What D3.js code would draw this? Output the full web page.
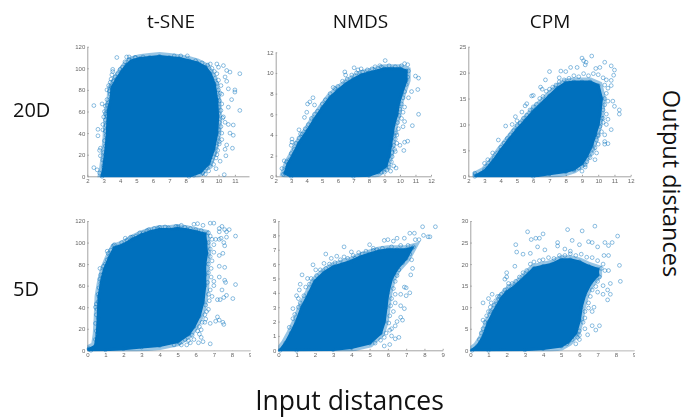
<!DOCTYPE html>
<html>
<head>
<meta charset="utf-8">
<script src="https://cdn.jsdelivr.net/npm/d3@7"></script>
<style>
  html, body { margin: 0; padding: 0; background: #fff; }
  svg { display: block; }
  .label { font-family: "Open Sans", sans-serif; fill: #111; }
  .tick text { font-family: "Liberation Sans", sans-serif; font-size: 6px; fill: #666; }
  .panel { filter: blur(0.35px); }
</style>
</head>
<body>
<div id="chart"></div>
<script>

const columnTitles = ["t-SNE", "NMDS", "CPM"];
const rowTitles = ["20D", "5D"];

// dense part of each cloud, traced around its edge [input, output]
const tsne20Edge = [[2.9,0],[3.0,8],[3.1,20],[3.2,35],[3.25,50],[3.3,62],[3.45,72],[3.5,82],[3.8,90],[4.1,97],[4.4,103],[4.7,107],[5.2,109],[5.8,110],[6.4,111],[7,110],[7.6,109],[8.2,107],[8.7,105],[9.2,101],[9.5,95],[9.75,85],[9.9,70],[9.95,55],[9.9,40],[9.7,25],[9.4,12],[8.9,4],[8.2,0]];
const nmds20Edge = [[2.6,0.3],[2.8,1.2],[3.1,2],[3.5,3.2],[4,4.3],[4.5,5.5],[5,6.6],[5.5,7.6],[6,8.3],[6.5,8.9],[7,9.4],[7.5,9.8],[8,10],[8.5,10.2],[9,10.4],[9.5,10.4],[10,10.4],[10.4,10.2],[10.4,9.3],[10.1,8],[9.9,7],[9.8,6],[9.6,5],[9.5,4],[9.4,3],[9.3,2],[9.1,1],[8.6,0.4],[8,0.1],[7,0],[3,0]];
const cpm20Edge = [[2.4,0],[3,1],[3.5,2.8],[4,5],[4.5,7],[5,9],[5.5,10.7],[6,12.5],[6.5,14],[7,15.5],[7.5,17],[8,18],[8.5,18.2],[9,18.2],[9.5,18.2],[10,17.5],[10.2,15],[10.1,12],[10,10],[9.8,8],[9.6,6],[9.3,4],[9,2.5],[8.5,1.4],[8,0.9],[7,0.5],[6,0]];
const tsne5Edge = [[0.1,1],[0.45,4],[0.55,15],[0.6,30],[0.65,50],[0.8,65],[0.95,75],[1.2,85],[1.5,95],[2,98],[2.5,103],[3,107],[3.5,110],[4,112],[4.5,112],[5,113],[5.5,112],[6,110],[6.5,108],[6.55,100],[6.6,90],[6.5,80],[6.5,70],[6.5,60],[6.4,45],[6.2,32],[5.9,22],[5.6,15],[5,8],[4,4.5],[3,3],[2,1.5],[1,0.5],[0.2,0]];
const nmds5Edge = [[0.1,0],[0.4,0.5],[0.7,1.2],[1,2],[1.3,3],[1.7,4],[2,4.8],[2.5,5.4],[3,5.8],[3.5,6],[4,6.2],[4.5,6.5],[5,6.7],[5.5,6.9],[6,7],[6.5,7],[7,7],[7.3,7.1],[7,6.4],[6.5,5.7],[6.2,5],[6,4],[5.9,3],[5.8,2],[5.6,1.2],[5,0.5],[4,0.2],[3,0.05],[1,0]];
const cpm5Edge = [[0.1,0],[0.4,1],[0.7,3],[1,6.5],[1.3,9],[1.7,12],[2,13.5],[2.5,15],[3,17],[3.5,19],[4,19.5],[4.5,20],[5,21],[5.5,21],[6,20.5],[6.5,19.5],[7,18.8],[7,17.5],[6.6,15.5],[6.3,13],[6.1,10],[6,7],[5.8,4],[5.4,2],[5,1],[4,0.4],[3,0.1],[1,0]];

// separate open circles outside the dense part
const tsne20Points = [[2.4,65.5],[2.65,43.5],[2.65,37.5],[2.4,8],[2.6,6],[2.75,3],[3.8,110],[4.4,110.5],[4.55,110.5],[4.9,110],[5.4,110.5],[3.55,99],[3.55,97],[3.5,94],[3.45,90],[3.3,84],[3.2,80],[2.9,67],[3.1,65],[3.05,60],[3,55],[2.95,48],[2.95,43],[2.8,26],[2.75,24],[2.8,19],[2.95,15],[10.3,102.5],[10.5,98],[10.7,96.5],[11.3,95],[10.4,92],[10.5,88],[10.6,81],[11,80],[11,78],[10.2,76],[10.8,71],[10.6,64],[11.3,61],[10.3,55],[10.4,50],[10.6,48],[10.9,47.5],[10.7,40],[10.9,38],[10.5,29],[10.85,26],[10.4,25],[10.45,19],[10.35,1.5],[9.85,7],[9.2,2],[8.5,1],[10,101],[9.9,104],[9.5,104],[8.1,111.5],[7.7,111.5],[7.3,111.5],[10.2,34],[10.05,30],[10.1,14],[9.9,20]];
const nmds20Points = [[2.4,0.75],[2.55,1.5],[2.7,1.4],[3,3],[3.05,3.3],[3.05,3.6],[3.5,4.5],[3.6,4.1],[3.85,5.7],[4,6.2],[4.05,7],[4.4,7.6],[4.2,7.2],[4.5,6.9],[5.7,8.6],[6.45,10.1],[6.5,9.8],[7.05,10.5],[7.3,10.3],[7.5,10.4],[8.4,10.6],[8.7,10.7],[9.05,11.2],[10.3,10.9],[10.5,10.8],[11,9.7],[11.2,9.5],[11.15,8.4],[10.75,8.2],[10.55,7.6],[11.2,6],[10.3,6.7],[10.2,6.2],[10.1,5.6],[10.8,4.9],[10.3,5.3],[10.2,4.8],[10.5,3.4],[10.3,3.3],[10.25,2.5],[10,3],[9.8,3.2],[9.7,2.4],[9.75,0.8],[9.6,1],[9.4,0.5],[9,0.4],[2.5,0.2]];
const cpm20Points = [[2.4,0.6],[2.4,0.3],[3.2,3.2],[3,2.5],[3.5,4.5],[3.85,7],[4.3,9.7],[4.7,10],[4.9,11.5],[5,10.7],[5.3,12.4],[5.5,13.6],[5.6,14],[5.9,15.5],[6,15.6],[6.45,17.2],[6.55,16.8],[6.7,14.5],[7,20.2],[6.75,18.6],[7.6,19],[7.7,20.3],[8,20.2],[8.3,21],[8.7,21],[9,22.8],[9.1,22.3],[9.25,22],[9.6,23.2],[9.2,21.5],[9.85,20.8],[10.1,21],[10.4,22],[10.8,21.3],[11,20.5],[10.95,19.5],[10.8,18.5],[10.8,17.5],[10.9,14.5],[11,13.5],[11.3,12.8],[11.3,12],[10.8,9],[10.5,10],[10.6,11],[10.4,8],[10.4,6.7],[10.6,6.3],[10.4,6.2],[9.8,5.5],[9.9,4.5],[9.8,3.2],[9.2,1.8],[9,1],[10,8],[10.3,11.2]];
const tsne5Points = [[0.1,1.5],[0.5,43],[0.45,40],[0.7,76],[0.75,70],[0.9,78],[1.1,92],[1.15,90],[1.5,98],[2.1,104],[2.4,105],[2.9,109],[3.3,111],[3.7,113],[4,114],[4.3,114.5],[4.9,115],[5.2,116],[5.9,117],[6.1,117.5],[6.4,116],[6.8,118],[7,118],[7.3,113],[7.3,110],[7.45,115],[7.6,112],[7.7,110],[7.85,112],[7.7,105],[8.2,106],[7.3,103],[7.1,103],[7.4,104],[7.55,100],[7.6,97],[7.5,90],[7.3,88],[7.3,78],[7.6,77],[7.3,68],[7,64],[7,60],[7.6,65],[7.65,63],[7.45,56],[8.2,61],[7.7,51],[7.55,49],[8.05,48],[7.2,47],[7.35,47],[7.2,31],[7.3,28],[7.5,26],[7.55,24],[7.1,27],[6.8,25],[6.3,19],[6.8,6],[6.4,8],[6.15,7],[6.3,12],[5.5,5],[5.6,9],[5.1,7],[6.5,26],[6.6,36],[6.9,50]];
const nmds5Points = [[0.8,2.9],[1,3.8],[1.1,3.6],[1.2,4.6],[1.3,5.25],[1.15,4.2],[1.6,5],[1.9,5.95],[2.05,5.6],[2.5,6.05],[2.6,6.7],[2.9,6.4],[3.2,6.55],[3.6,7.2],[3.6,6.5],[4,6.85],[4.2,6.4],[4.6,6.7],[5,7.35],[5.2,7.1],[5.4,7],[5.8,7.65],[6,7.7],[6.3,7.6],[6.5,7.8],[6.9,7.8],[7.2,8.15],[7.45,8.15],[7.5,7.7],[7.9,8.6],[8.6,8.6],[7.95,8],[8.2,7.9],[8.3,7.9],[7.7,7.7],[7.3,6.3],[7.35,5.7],[7.25,5.25],[7,4.35],[6.9,4.4],[7.2,4],[6.7,3.9],[7,3.8],[6.4,3.3],[6.7,3.1],[6.9,2.9],[6.7,2.3],[6.8,2.1],[6.5,2],[6.4,1.7],[6.1,1.4],[6.6,0.9],[6.4,0.8],[6.2,1],[6.1,0.4],[5.8,0.3]];
const cpm5Points = [[0.7,7],[0.7,11],[1,12],[1.2,13],[1.15,11],[1.1,9],[1.6,12.5],[1.9,16.5],[2,18],[2,17],[2.1,15.5],[2.45,19.5],[2.5,24.5],[2.55,22.8],[2.9,22.3],[3.15,27.5],[3.35,25.7],[3.6,26],[3.8,26],[4,27],[3.7,24],[3.3,22.5],[4.1,23.3],[4.8,25],[4.8,24.2],[5.35,28],[5.6,25.5],[6.15,27.7],[6.85,28.8],[6.5,25.2],[6.7,25],[7,24],[7.4,25],[7.6,24.3],[7.8,25],[8.1,26.5],[7.35,22],[7.6,22],[5.2,23.5],[5.5,23],[6,24.5],[8.2,19.7],[8.25,16],[7.7,15.5],[7.6,18.5],[7.3,15],[7.55,14],[7.7,13],[7.55,11.7],[7.3,13],[7,13.5],[6.8,10],[6.7,9],[6.7,5.7],[6.9,4.7],[7.1,5.7],[6.45,3.6],[6,2.5],[6,3.5],[5.8,1.5]];

// crowded circles just off the dense part
const tsne20Fringe = [[3.0,10],[3.1,5],[3.05,14],[3.0,22],[3.15,18],[3.1,28],[3.05,33],[3.2,30],[3.15,38],[3.1,42],[3.25,44],[3.15,47],[3.1,52],[3.2,56],[3.1,58],[3.25,60],[3.2,66],[3.3,68],[3.2,71],[3.4,76],[3.35,79],[3.45,83],[3.4,87],[3.6,88],[3.7,92],[3.85,95],[4.0,99],[4.15,101],[4.3,106],[4.55,108],[4.95,110],[8.6,107],[9,105],[9.35,103],[9.6,100],[9.75,97],[9.9,95],[9.8,91],[10,89],[9.9,86],[10.15,84],[10,80],[10.1,77],[9.95,73],[10.05,70],[10.2,67],[10,64],[10.15,61],[10,58],[10.25,54],[10.05,50],[10.15,46],[10,43],[10.2,40],[9.95,36],[10.05,32],[9.85,28],[9.95,24],[9.75,21],[9.85,17],[9.6,15],[9.7,11],[9.5,9],[9.4,5],[9.05,3],[8.8,6],[9.25,8]];
const nmds20Fringe = [[2.7,0.8],[2.9,1.6],[3.0,2.2],[3.2,2.6],[3.3,3.2],[3.5,3.7],[3.7,4.1],[3.9,4.6],[4.1,5],[4.3,5.6],[4.5,6],[4.7,6.3],[5,7],[5.2,7.4],[5.5,8],[5.8,8.5],[6,8.7],[6.3,9.2],[6.6,9.4],[6.9,9.8],[7.2,10],[7.6,10.1],[7.9,10.3],[8.2,10.4],[8.8,10.6],[9.3,10.7],[9.7,10.6],[10.1,10.7],[10.55,10.2],[10.5,9.6],[10.4,8.9],[10.3,8.2],[10.2,7.6],[10.1,7],[10,6.5],[9.95,5.9],[9.85,5.2],[9.9,4.6],[9.75,4.2],[9.7,3.6],[9.6,3],[9.65,2.6],[9.5,1.9],[9.45,1.4],[9.3,0.9],[9.15,0.6],[8.8,0.4],[9.5,2.3],[9.8,4]];
const cpm20Fringe = [[2.8,0.5],[3,1.3],[3.2,2],[3.4,3],[3.6,3.6],[3.8,4.5],[4,5.6],[4.2,6.4],[4.4,7.3],[4.6,8],[4.8,8.8],[5,9.8],[5.2,10.3],[5.4,11.2],[5.6,11.8],[5.8,12.8],[6,13.4],[6.2,13.9],[6.4,15],[6.6,15.4],[6.8,16.4],[7,16.8],[7.2,17.2],[7.4,17.6],[7.6,18.2],[7.9,18.6],[8.2,18.9],[8.5,19.4],[8.8,19.2],[9.1,19.8],[9.4,19.4],[9.7,19.8],[10,19.6],[10.3,19],[10.5,18.6],[10.4,17.6],[10.6,17],[10.5,16],[10.4,15],[10.6,14.5],[10.4,13.8],[10.3,12.8],[10.5,12],[10.2,11.2],[10.3,10.4],[10.1,9.6],[10.2,8.6],[10,7.8],[9.9,7],[10,6.2],[9.7,5.2],[9.6,4.4],[9.5,3.6],[9.3,2.8],[9.2,2.2],[8.8,1.6],[8.5,1.2]];
const tsne5Fringe = [[0.45,10],[0.5,18],[0.45,25],[0.5,33],[0.55,38],[0.6,45],[0.6,52],[0.65,58],[0.75,62],[0.7,66],[0.85,70],[0.95,72],[1,80],[1.1,84],[1.25,88],[1.3,93],[1.45,97],[1.7,96],[1.9,100],[2.2,102],[2.5,105],[2.7,106],[3.1,109],[3.4,112],[3.9,113],[4.5,113.5],[5,114.5],[5.4,114],[5.7,113],[6,112],[6.3,111],[6.7,109],[6.8,106],[6.9,103],[6.7,100],[7,98],[6.8,94],[7,91],[6.8,87],[6.9,83],[6.7,80],[6.85,76],[6.7,72],[6.85,68],[6.65,63],[6.8,56],[6.7,52],[6.75,46],[6.55,42],[6.7,38],[6.5,33],[6.55,29],[6.35,26],[6.2,22],[6.1,18],[6.2,15],[5.8,14],[5.9,10],[5.4,10],[5.7,7],[5.2,5],[4.8,5]];
const nmds5Fringe = [[0.6,1.6],[0.8,2.2],[0.9,2.5],[1.1,3],[1.2,3.3],[1.4,3.8],[1.5,4.4],[1.7,4.6],[1.8,5],[2.1,5.2],[2.3,5.6],[2.6,5.7],[2.8,6],[3.1,6.1],[3.4,6.3],[3.8,6.4],[4.1,6.6],[4.4,6.8],[4.8,6.9],[5.2,6.95],[5.7,7.1],[6.2,7.2],[6.7,7.3],[7.1,7.3],[7.4,7.2],[7.2,6.7],[7,6.6],[6.8,6.1],[6.6,5.6],[6.5,5.2],[6.4,4.8],[6.3,4.3],[6.4,3.9],[6.2,3.6],[6.15,3.1],[6.3,2.7],[6.1,2.4],[6.05,1.9],[6.2,1.5],[5.9,1.2],[5.8,0.9],[5.6,0.7],[5.3,0.5]];
const cpm5Fringe = [[0.5,2.5],[0.6,4],[0.7,5],[0.8,6.5],[0.9,8],[1,9],[1.1,10],[1.3,10.5],[1.4,11.5],[1.5,12.5],[1.7,13],[1.9,14],[2.1,14.8],[2.3,15.5],[2.5,16],[2.7,17],[2.9,18],[3.1,18.5],[3.3,20],[3.5,20.5],[3.8,20.8],[4,21],[4.3,21.5],[4.6,21.3],[4.9,22],[5.2,22],[5.5,22.4],[5.8,22],[6.1,22.3],[6.4,21.6],[6.7,21.5],[7,20.8],[7.3,20],[7.2,19],[7.4,18.5],[7.1,17],[7,16],[6.9,14.8],[6.7,14],[6.6,12.5],[6.5,11],[6.5,9.8],[6.3,9],[6.3,7.5],[6.2,6.5],[6.3,5],[6,4.5],[5.9,3],[5.6,2.5],[5.3,1.5]];

const xTicks20 = [2,3,4,5,6,7,8,9,10,11,12];
const xTicks5 = [0,1,2,3,4,5,6,7,8,9];
const yTicksTsne = [0,20,40,60,80,100,120];
const yTicksNmds20 = [0,2,4,6,8,10,12];
const yTicksCpm20 = [0,5,10,15,20,25];
const yTicksNmds5 = [0,1,2,3,4,5,6,7,8,9];
const yTicksCpm5 = [0,5,10,15,20,25,30];

const width = 684;
const height = 418;
const blue = "#0070bd";

const svg = d3.select("#chart")
    .append("svg")
    .attr("width", width)
    .attr("height", height);

// pixel boxes
const panels = [
    { edge: tsne20Edge, points: tsne20Points, fringe: tsne20Fringe, xd: [2, 11.86], xr: [87.3, 249], yd: [0, 120], yr: [176.3, 46.7], xt: xTicks20.slice(0, 10), yt: yTicksTsne },
    { edge: nmds20Edge, points: nmds20Points, fringe: nmds20Fringe, xd: [2, 12], xr: [275.7, 431], yd: [0, 12], yr: [176.3, 52.3], xt: xTicks20, yt: yTicksNmds20 },
    { edge: cpm20Edge, points: cpm20Points, fringe: cpm20Fringe, xd: [2, 12], xr: [468.3, 630.7], yd: [0, 25], yr: [176.3, 46.7], xt: xTicks20, yt: yTicksCpm20 },
    { edge: tsne5Edge, points: tsne5Points, fringe: tsne5Fringe, xd: [0, 9], xr: [87.3, 250], yd: [0, 120], yr: [350.3, 221], xt: xTicks5, yt: yTicksTsne, cut: 251 },
    { edge: nmds5Edge, points: nmds5Points, fringe: nmds5Fringe, xd: [0, 9], xr: [278.3, 442.7], yd: [0, 9], yr: [350.3, 221], xt: xTicks5, yt: yTicksNmds5 },
    { edge: cpm5Edge, points: cpm5Points, fringe: cpm5Fringe, xd: [0, 9], xr: [470.3, 634], yd: [0, 30], yr: [350.3, 221], xt: xTicks5, yt: yTicksCpm5, cut: 635 }
];

panels.forEach(function(p, i) {

    const xScale = d3.scaleLinear().domain(p.xd).range(p.xr);
    const yScale = d3.scaleLinear().domain(p.yd).range(p.yr);

    const g = svg.append("g").attr("class", "panel");

    const xAxis = g.append("g")
        .attr("transform", "translate(0," + p.yr[0] + ")")
        .call(d3.axisBottom(xScale).tickValues(p.xt).tickSize(-1.5).tickPadding(2).tickSizeOuter(0));

    // the last label of these two is cut in half in the picture
    if (p.cut) {
        svg.append("clipPath")
            .attr("id", "cut" + i)
            .append("rect")
            .attr("x", 0)
            .attr("y", 0)
            .attr("width", p.cut)
            .attr("height", height);
        xAxis.attr("clip-path", "url(#cut" + i + ")");
    }

    g.append("g")
        .attr("transform", "translate(" + p.xr[0] + ",0)")
        .call(d3.axisLeft(yScale).tickValues(p.yt).tickSize(-1.5).tickPadding(2).tickSizeOuter(0));

    g.selectAll(".domain, .tick line").attr("stroke", "#999").attr("stroke-width", 0.9);

    const line = d3.line()
        .x(function(d) { return xScale(d[0]); })
        .y(function(d) { return yScale(d[1]); })
        .curve(d3.curveLinearClosed);

    // soft band for the mottled rim of the cloud, clipped at the axis
    svg.append("clipPath")
        .attr("id", "box" + i)
        .append("rect")
        .attr("x", p.xr[0])
        .attr("y", 0)
        .attr("width", width)
        .attr("height", p.yr[0] + 1);

    g.append("path")
        .attr("d", line(p.edge))
        .attr("clip-path", "url(#box" + i + ")")
        .attr("fill", "none")
        .attr("stroke", blue)
        .attr("stroke-opacity", 0.4)
        .attr("stroke-width", 9);

    g.append("path")
        .attr("d", line(p.edge))
        .attr("clip-path", "url(#box" + i + ")")
        .attr("fill", blue)
        .attr("stroke", blue)
        .attr("stroke-width", 3);

    g.selectAll("circle")
        .data(p.points.concat(p.fringe, p.edge))
        .enter()
        .append("circle")
            .attr("cx", function(d) { return xScale(d[0]); })
            .attr("cy", function(d) { return yScale(d[1]); })
            .attr("r", 1.9)
            .attr("fill", "none")
            .attr("stroke", blue)
            .attr("stroke-width", 0.6)
            .attr("stroke-opacity", 0.75);
});

const titleX = [171, 360.5, 550];
svg.selectAll(".columnTitle")
    .data(columnTitles)
    .enter()
    .append("text")
        .attr("class", "label columnTitle")
        .attr("x", function(d, i) { return titleX[i]; })
        .attr("y", 28)
        .attr("text-anchor", "middle")
        .attr("font-size", 19)
        .text(function(d) { return d; });

const rowY = [117, 296];
svg.selectAll(".rowTitle")
    .data(rowTitles)
    .enter()
    .append("text")
        .attr("class", "label rowTitle")
        .attr("x", 13)
        .attr("y", function(d, i) { return rowY[i]; })
        .attr("font-size", 20)
        .text(function(d) { return d; });

svg.append("text")
    .attr("class", "label")
    .attr("x", 349.5)
    .attr("y", 410)
    .attr("text-anchor", "middle")
    .attr("font-size", 26.5)
    .text("Input distances");

svg.append("text")
    .attr("class", "label")
    .attr("transform", "translate(663,183.5) rotate(90)")
    .attr("text-anchor", "middle")
    .attr("font-size", 23.5)
    .text("Output distances");

</script>
</body>
</html>
